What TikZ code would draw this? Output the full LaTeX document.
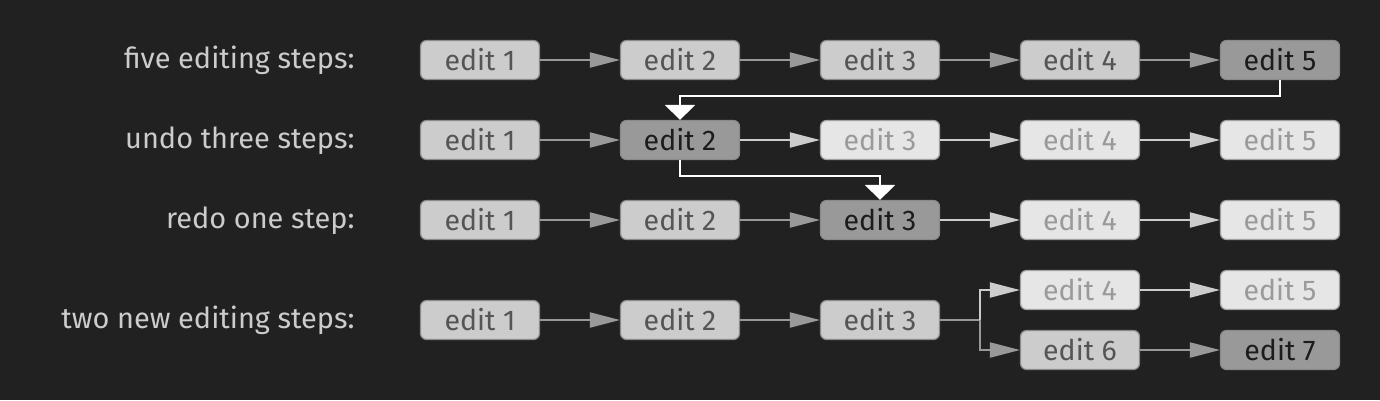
\documentclass[tikz,border=0pt]{standalone}
\usepackage{fontspec}
\setmainfont{Fira Sans}
\usepackage{tikz}
\usetikzlibrary{arrows.meta}

\definecolor{bg}{HTML}{212121}
\definecolor{donefill}{HTML}{CCCCCC}
\definecolor{donetext}{HTML}{555555}
\definecolor{curfill}{HTML}{999999}
\definecolor{curtext}{HTML}{1C1C1C}
\definecolor{undofill}{HTML}{E6E6E6}
\definecolor{undotext}{HTML}{9A9A9A}
\definecolor{boxline}{HTML}{8A8A8A}
\definecolor{labeltext}{HTML}{CCCCCC}

\begin{document}
\begin{tikzpicture}[x=1pt, y=-1pt,
            done/.style={rectangle, draw=boxline, line width=1.2pt, rounded corners=6pt,
            minimum width=119pt, minimum height=39pt, inner sep=0pt,
            fill=donefill, text=donetext, font=\fontsize{28.5}{32}\selectfont},
            current/.style={done, fill=curfill, text=curtext},
            undone/.style={done, draw=boxline!80!white, fill=undofill, text=undotext},
            rowlabel/.style={anchor=base east, text=labeltext, font=\fontsize{28.9}{34}\selectfont},
            arr/.style={-{Triangle[length=30pt, width=15pt]}, line width=2pt, curfill},
            arrlight/.style={arr, donefill},
            back/.style={-{Triangle[length=15pt, width=30pt]}, line width=2pt, white},
        ]

            \fill[bg] (0,0) rectangle (1380,400);
            \useasboundingbox (0,0) rectangle (1380,400);

            %% Row 1: five editing steps
            \node[rowlabel] at (358,68) {five editing steps:};
            \foreach \col/\sty in {1/done,2/done,3/done,4/done,5/current} {
                \node[\sty] (r1c\col) at (280+\col*200, 60) {edit \col};
            }
            \foreach \a/\b in {1/2,2/3,3/4,4/5} {
                \draw[arr] (r1c\a) -- (r1c\b);
            }

            %% Row 2: undo
            \node[rowlabel] at (358,148) {undo three steps:};
            \foreach \col/\sty in {1/done,2/current,3/undone,4/undone,5/undone} {
                \node[\sty] (r2c\col) at (280+\col*200, 140) {edit \col};
            }
            \draw[arr] (r2c1) -- (r2c2);
            \foreach \a/\b in {2/3,3/4,4/5} {
                \draw[arrlight] (r2c\a) -- (r2c\b);
            }

            %% Row 3: redo
            \node[rowlabel] at (358,228) {redo one step:};
            \foreach \col/\sty in {1/done,2/done,3/current,4/undone,5/undone} {
                \node[\sty] (r3c\col) at (280+\col*200, 220) {edit \col};
            }
            \draw[arr] (r3c1) -- (r3c2);
            \draw[arr] (r3c2) -- (r3c3);
            \draw[arrlight] (r3c3) -- (r3c4);
            \draw[arrlight] (r3c4) -- (r3c5);

            %% Row 4: new branch
            \node[rowlabel] at (358,328) {two new editing steps:};
            \foreach \col in {1,2,3} {
                \node[done] (r4c\col) at (280+\col*200, 320) {edit \col};
            }
            \node[undone]  (r4c4) at (1080,290) {edit 4};
            \node[undone]  (r4c5) at (1280,290) {edit 5};
            \node[done]    (r4c6) at (1080,350) {edit 6};
            \node[current] (r4c7) at (1280,350) {edit 7};
            \draw[arr] (r4c1) -- (r4c2);
            \draw[arr] (r4c2) -- (r4c3);
            \coordinate (fork) at (980,320);
            \draw[line width=2pt, curfill] (r4c3) -- (fork);
            \draw[arrlight] (fork) |- (r4c4);
            \draw[arr] (fork) |- (r4c6);
            \draw[arrlight] (r4c4) -- (r4c5);
            \draw[arr] (r4c6) -- (r4c7);

            %% undo / redo jumps
            \draw[back] (r1c5.south) -- ++(0,16) -| (r2c2.north);
            \draw[back] (r2c2.south) -- ++(0,16) -| (r3c3.north);

        \end{tikzpicture}
\end{document}
